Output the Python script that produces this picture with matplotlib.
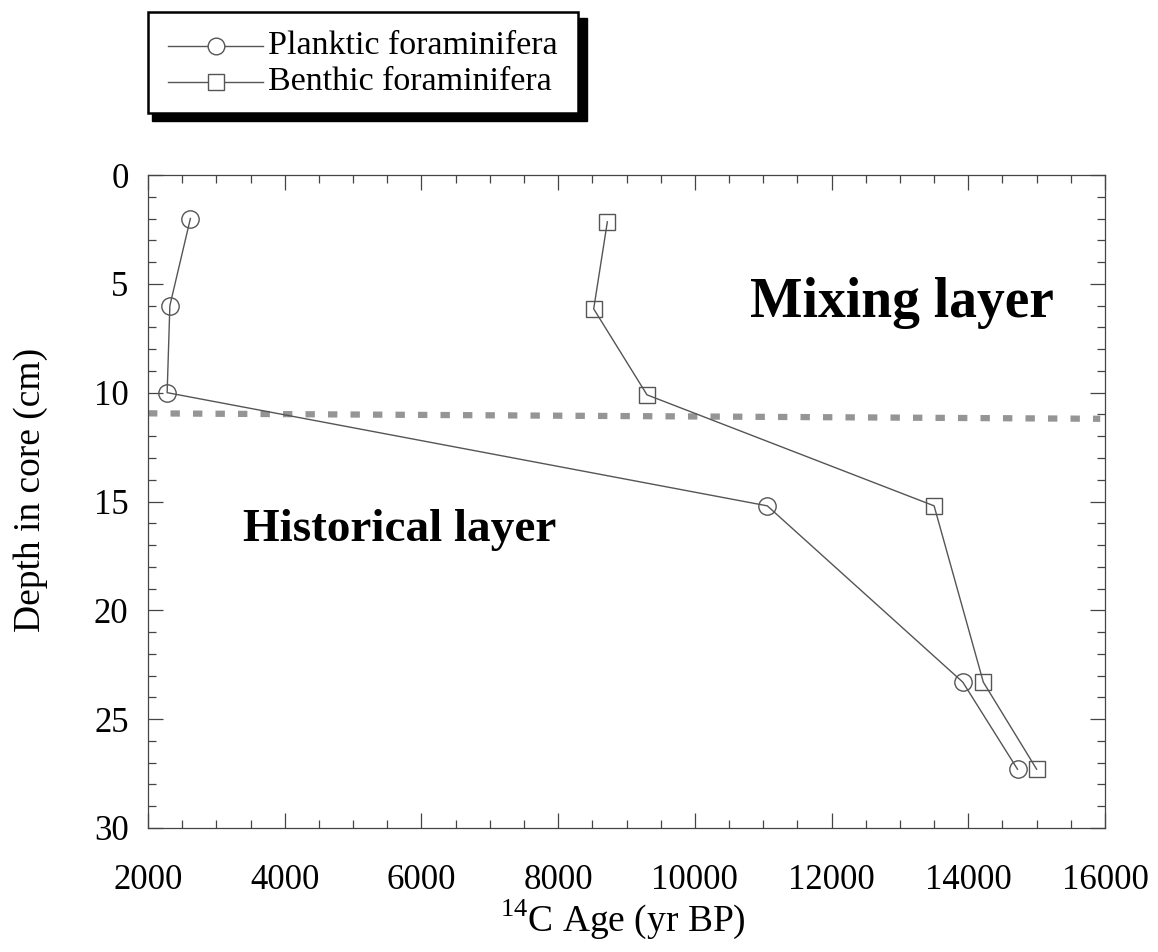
import matplotlib.pyplot as plt
from matplotlib.ticker import MultipleLocator
from matplotlib.patches import Rectangle
from matplotlib.lines import Line2D

plt.rcParams['font.family'] = ['Liberation Serif', 'DejaVu Serif']
plt.rcParams['mathtext.fontset'] = 'custom'
plt.rcParams['mathtext.rm'] = 'Liberation Serif'

# radiocarbon ages (yr BP) against depth (cm)
planktic_age = [2620, 2320, 2280, 11060, 13920, 14720]
planktic_depth = [2.0, 6.0, 10.0, 15.2, 23.3, 27.3]
benthic_age = [8720, 8520, 9300, 13500, 14220, 15000]
benthic_depth = [2.15, 6.15, 10.1, 15.2, 23.3, 27.3]

# boundary between the mixed and historical layers
boundary_age = [2000, 15930]
boundary_depth = [10.95, 11.2]

W, H = 1158, 952
fig = plt.figure(figsize=(W / 100, H / 100), dpi=100)
ax = fig.add_axes([148 / W, 1 - 828 / H, (1105 - 148) / W, (828 - 175) / H])

line_col = '#555555'
ax.plot(planktic_age, planktic_depth, color=line_col, lw=1.0, marker='o',
        ms=12.5, mfc='none', mec=line_col, mew=1.0, zorder=3)
ax.plot(benthic_age, benthic_depth, color=line_col, lw=1.0, marker='s',
        ms=12, mfc='none', mec=line_col, mew=1.0, zorder=3)
ax.plot(boundary_age, boundary_depth, color='#959595', lw=4.5,
        linestyle=(0, (1.5, 2.1)), dash_capstyle='butt', zorder=2)

ax.set_xlim(2000, 16000)
ax.set_ylim(30, 0)
ax.xaxis.set_major_locator(MultipleLocator(2000))
ax.xaxis.set_minor_locator(MultipleLocator(500))
ax.yaxis.set_major_locator(MultipleLocator(5))
ax.yaxis.set_minor_locator(MultipleLocator(1))
ax.tick_params(which='both', direction='in', top=True, right=True,
               color='#444444', labelsize=25, width=0.9)
ax.tick_params(which='major', length=11)
ax.tick_params(which='minor', length=5.5)
ax.tick_params(axis='x', which='major', pad=26)
ax.tick_params(axis='y', which='major', pad=14)
for s in ax.spines.values():
    s.set_color('#444444')
    s.set_linewidth(0.9)

fig.text(623 / W, 1 - 952 / H + 0.012, r'$^{14}$C Age (yr BP)', fontsize=27,
         ha='center', va='bottom')
fig.text(31 / W, 1 - 490 / H, 'Depth in core (cm)', fontsize=27, rotation=90,
         ha='center', va='center')

fig.text(750 / W, 1 - 317 / H, 'Mixing layer', fontsize=40, fontweight='bold',
         ha='left', va='baseline')
fig.text(243 / W, 1 - 541 / H, 'Historical layer', fontsize=34, fontweight='bold',
         ha='left', va='baseline')

# legend box with drop shadow above the axes
shadow = Rectangle((152 / W, 1 - 121 / H), (587 - 152) / W, (121 - 18) / H,
                   transform=fig.transFigure, facecolor='black', edgecolor='black', zorder=1)
box = Rectangle((148 / W, 1 - 113 / H), (578 - 148) / W, (113 - 12) / H,
                transform=fig.transFigure, facecolor='white', edgecolor='black', lw=1.8, zorder=2)
fig.patches.extend([shadow, box])

for y, mk, label in [(46, 'o', 'Planktic foraminifera'), (82, 's', 'Benthic foraminifera')]:
    fig.lines.append(Line2D([168 / W, 263 / W], [1 - y / H] * 2, transform=fig.transFigure,
                            color=line_col, lw=1.0, zorder=3))
    fig.lines.append(Line2D([216 / W], [1 - y / H], transform=fig.transFigure, marker=mk,
                            ms=12, mfc='white', mec=line_col, mew=1.0, lw=0, zorder=4))
    fig.text(268 / W, 1 - y / H, label, fontsize=24.5, va='center', ha='left', zorder=5)

fig.savefig('out.png', dpi=100)
